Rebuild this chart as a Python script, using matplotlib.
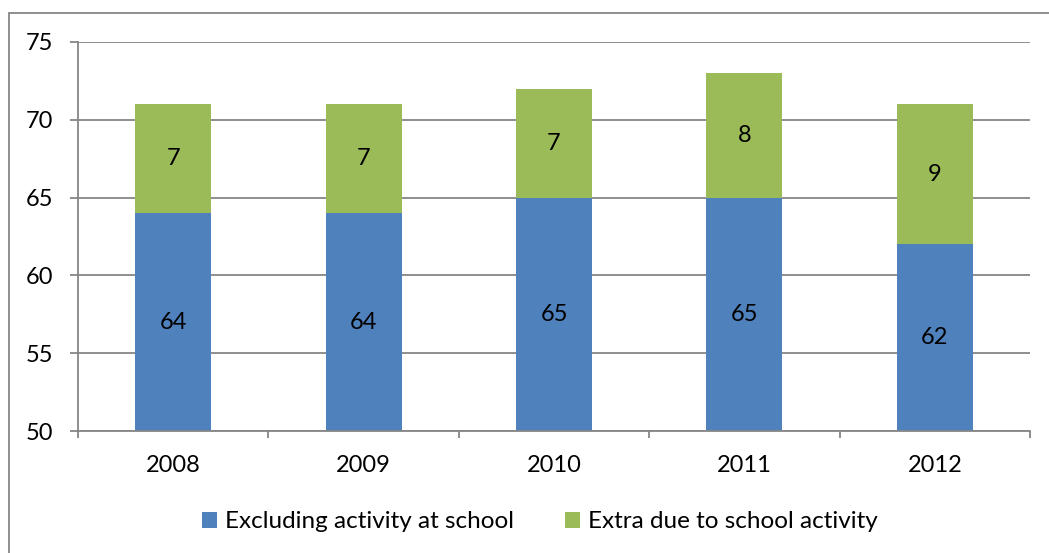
import matplotlib.pyplot as plt
from matplotlib.patches import Rectangle

years = ['2008', '2009', '2010', '2011', '2012']
excluding_school = [64, 64, 65, 65, 62]
extra_school = [7, 7, 7, 8, 9]

blue = '#4f81bd'
green = '#9bbb59'
grid_grey = '#868686'
fs = 17

plt.rcParams['font.family'] = ['Lato', 'DejaVu Sans']

fig = plt.figure(figsize=(10.49, 5.53), dpi=100)
W, H = 1049, 553
ax = fig.add_axes([78 / W, 1 - 431 / H, (1030 - 78) / W, (431 - 42) / H])

ymin = 50
x = range(len(years))
ax.bar(x, excluding_school, width=0.4, color=blue, zorder=2,
       label='Excluding activity at school')
ax.bar(x, extra_school, bottom=excluding_school, width=0.4, color=green, zorder=2,
       label='Extra due to school activity')

# value labels centred in the visible part of each segment
for i in x:
    lo = max(ymin, 0)
    ax.text(i, (lo + excluding_school[i]) / 2, str(excluding_school[i]),
            ha='center', va='center', fontsize=fs, zorder=3)
    ax.text(i, excluding_school[i] + extra_school[i] / 2, str(extra_school[i]),
            ha='center', va='center', fontsize=fs, zorder=3)

ax.set_ylim(ymin, 75)
ax.set_xlim(-0.5, len(years) - 0.5)
ax.set_yticks(range(50, 76, 5))
ax.yaxis.grid(True, color=grid_grey, linewidth=1.3, zorder=0)
ax.set_axisbelow(True)

for side in ['top', 'right']:
    ax.spines[side].set_visible(False)
for side in ['left', 'bottom']:
    ax.spines[side].set_color(grid_grey)
    ax.spines[side].set_linewidth(1.3)

ax.tick_params(axis='y', length=6, width=1.3, color=grid_grey, labelsize=fs, pad=12)
# category ticks sit on the boundaries between years
ax.set_xticks([i + 0.5 for i in range(len(years) - 1)] + [-0.5, len(years) - 0.5], minor=False)
ax.set_xticklabels([''] * (len(years) + 1))
ax.tick_params(axis='x', length=5, width=1.3, color=grid_grey)
ax.set_xticks(list(x), minor=True)
ax.set_xticklabels(years, minor=True)
ax.tick_params(axis='x', which='minor', length=0, labelsize=fs, pad=17)

leg = fig.legend(loc='center', bbox_to_anchor=(540 / W, 1 - 522 / H), ncol=2,
                 frameon=False, fontsize=17.5, handlelength=0.6, handleheight=0.6,
                 columnspacing=2.1, handletextpad=0.35)

# outer chart border
fig.patches.append(Rectangle((9 / W, -0.01), 1.1, 1 - 13 / H + 0.01, transform=fig.transFigure,
                             fill=False, edgecolor=grid_grey, linewidth=1.3))

fig.savefig('out.png', dpi=100)
